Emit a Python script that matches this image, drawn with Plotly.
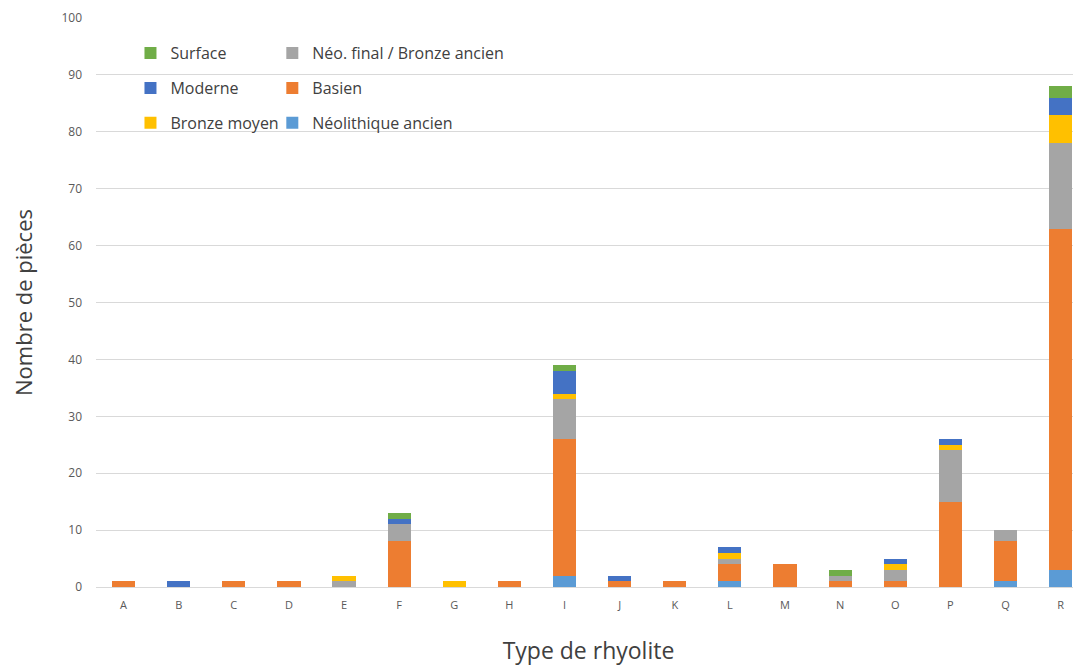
import plotly.graph_objects as go

categories = ["A", "B", "C", "D", "E", "F", "G", "H", "I", "J", "K", "L", "M", "N", "O", "P", "Q", "R"]
neolithique_ancien = [0, 0, 0, 0, 0, 0, 0, 0, 2, 0, 0, 1, 0, 0, 0, 0, 1, 3]
basien = [1, 0, 1, 1, 0, 8, 0, 1, 24, 1, 1, 3, 4, 1, 1, 15, 7, 60]
neo_final = [0, 0, 0, 0, 1, 3, 0, 0, 7, 0, 0, 1, 0, 1, 2, 9, 2, 15]
bronze_moyen = [0, 0, 0, 0, 1, 0, 1, 0, 1, 0, 0, 1, 0, 0, 1, 1, 0, 5]
moderne = [0, 1, 0, 0, 0, 1, 0, 0, 4, 1, 0, 1, 0, 0, 1, 1, 0, 3]
surface = [0, 0, 0, 0, 0, 1, 0, 0, 1, 0, 0, 0, 0, 1, 0, 0, 0, 2]

series = [
    ("Néolithique ancien", neolithique_ancien, "#5B9BD5", "legend2", 3),
    ("Basien", basien, "#ED7D31", "legend2", 2),
    ("Néo. final / Bronze ancien", neo_final, "#A5A5A5", "legend2", 1),
    ("Bronze moyen", bronze_moyen, "#FFC000", "legend", 3),
    ("Moderne", moderne, "#4472C4", "legend", 2),
    ("Surface", surface, "#70AD47", "legend", 1),
]

fig = go.Figure()
for name, vals, color, leg, rank in series:
    fig.add_trace(go.Bar(
        x=categories, y=vals, name=name, marker_color=color,
        marker_line_width=0, legend=leg, legendrank=rank, legendgroup=name,
    ))

font_family = "Open Sans, Liberation Sans, sans-serif"
legend_common = dict(
    orientation="v", bgcolor="rgba(0,0,0,0)", borderwidth=0,
    font=dict(family=font_family, size=16, color="#404040"),
    tracegroupgap=11, itemwidth=30, yanchor="top", xanchor="left",
)

# the page body adds an 8px offset, so the figure is 8px smaller than the window
fig.update_layout(
    width=1073, height=658,
    barmode="stack", bargap=0.58,
    paper_bgcolor="white", plot_bgcolor="white",
    margin=dict(l=88, r=0, t=10, b=79),
    font=dict(family=font_family, color="#595959"),
    legend=dict(x=0.035, y=0.968, **legend_common),
    legend2=dict(x=0.179, y=0.968, **legend_common),
    xaxis=dict(
        range=[-0.5, 17.37], showgrid=False, tickfont=dict(size=11, color="#595959"),
        ticks="", showline=True, linecolor="#d9d9d9", linewidth=1, automargin=False,
        ticklabelstandoff=8,
        title=dict(text="Type de rhyolite", font=dict(size=23, color="#404040"), standoff=32),
    ),
    yaxis=dict(
        range=[0, 100], dtick=10, showgrid=True, gridcolor="#d9d9d9", gridwidth=1,
        tickfont=dict(size=12, color="#595959"), zeroline=False, ticks="", automargin=False,
        ticklabelstandoff=13,
        title=dict(text="Nombre de pièces", font=dict(size=22, color="#404040"), standoff=36),
    ),
)

fig.write_html("out.html")
